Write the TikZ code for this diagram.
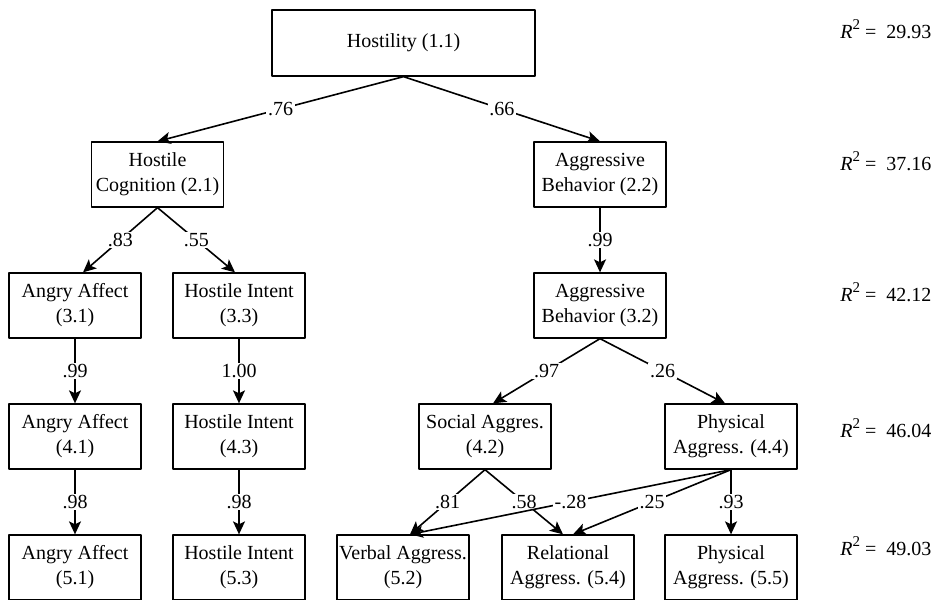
\documentclass[tikz,border=0pt]{standalone}
\usepackage{fontspec}
\setmainfont{Liberation Serif}
\usetikzlibrary{arrows.meta}

\begin{document}
\begin{tikzpicture}[x=0.5pt,y=-0.5pt,line join=round,
  font=\fontsize{10}{12.5}\selectfont,
  box/.style={draw,line width=0.65pt,minimum width=66pt,minimum height=32.5pt,align=center,inner sep=1pt},
  link/.style={line width=0.8pt,-{Stealth[length=6.5pt,width=6pt,inset=1.5pt]}},
  coef/.style={fill=white,inner sep=0.8pt},
  rsq/.style={anchor=west,inner sep=0pt}]
\useasboundingbox (0,0) rectangle (935,599);
\node[box,minimum width=131.5pt,minimum height=33pt] (h11) at (403.5,43) {Hostility (1.1)};
\node[box] (hc21) at (157.5,174.5) {Hostile\\Cognition (2.1)};
\node[box] (ab22) at (600,174.5) {Aggressive\\Behavior (2.2)};
\node[box] (aa31) at (75,305.5) {Angry Affect\\(3.1)};
\node[box] (hi33) at (239,305.5) {Hostile Intent\\(3.3)};
\node[box] (ab32) at (600,305.5) {Aggressive\\Behavior (3.2)};
\node[box] (aa41) at (75,436.5) {Angry Affect\\(4.1)};
\node[box] (hi43) at (239,436.5) {Hostile Intent\\(4.3)};
\node[box] (sa42) at (485,436.5) {Social Aggres.\\(4.2)};
\node[box] (pa44) at (731,436.5) {Physical\\Aggress. (4.4)};
\node[box] (aa51) at (75,567.5) {Angry Affect\\(5.1)};
\node[box] (hi53) at (239,567.5) {Hostile Intent\\(5.3)};
\node[box] (va52) at (403,567.5) {Verbal Aggress.\\(5.2)};
\node[box] (ra54) at (568,567.5) {Relational\\Aggress. (5.4)};
\node[box] (pa55) at (731,567.5) {Physical\\Aggress. (5.5)};
\draw[link] (h11.south) -- node[coef] {.76} (hc21.north);
\draw[link] (h11.south) -- node[coef] {.66} (ab22.north);
\draw[link] (hc21.south) -- node[coef] {.83} ([xshift=4pt]aa31.north);
\draw[link] (hc21.south) -- node[coef] {.55} ([xshift=-2pt]hi33.north);
\draw[link] (ab22.south) -- node[coef] {.99} (ab32.north);
\draw[link] (aa31.south) -- node[coef] {.99} (aa41.north);
\draw[link] (hi33.south) -- node[coef] {1.00} (hi43.north);
\draw[link] (ab32.south) -- node[coef] {.97} ([xshift=4pt]sa42.north);
\draw[link] (ab32.south) -- node[coef] {.26} ([xshift=-3pt]pa44.north);
\draw[link] (aa41.south) -- node[coef] {.98} (aa51.north);
\draw[link] (hi43.south) -- node[coef] {.98} (hi53.north);
\draw[link] (sa42.south) -- node[coef] {.81} ([xshift=3.5pt]va52.north);
\draw[link] (sa42.south) -- node[coef] {.58} ([xshift=-2.5pt]ra54.north);
\draw[link] (pa44.south) -- node[coef] {-.28} ([xshift=3.5pt]va52.north);
\draw[link] (pa44.south) -- node[coef] {.25} ([xshift=2.5pt]ra54.north);
\draw[link] (pa44.south) -- node[coef] {.93} (pa55.north);
\node[rsq] (r1) at (840,29) {\textit{R}\raisebox{0.42em}{\fontsize{7.5}{8}\selectfont 2} =\enspace 29.93};
\node[rsq] (r2) at (840,161) {\textit{R}\raisebox{0.42em}{\fontsize{7.5}{8}\selectfont 2} =\enspace 37.16};
\node[rsq] (r3) at (840,292) {\textit{R}\raisebox{0.42em}{\fontsize{7.5}{8}\selectfont 2} =\enspace 42.12};
\node[rsq] (r4) at (840,428) {\textit{R}\raisebox{0.42em}{\fontsize{7.5}{8}\selectfont 2} =\enspace 46.04};
\node[rsq] (r5) at (840,546) {\textit{R}\raisebox{0.42em}{\fontsize{7.5}{8}\selectfont 2} =\enspace 49.03};
\end{tikzpicture}
\end{document}
